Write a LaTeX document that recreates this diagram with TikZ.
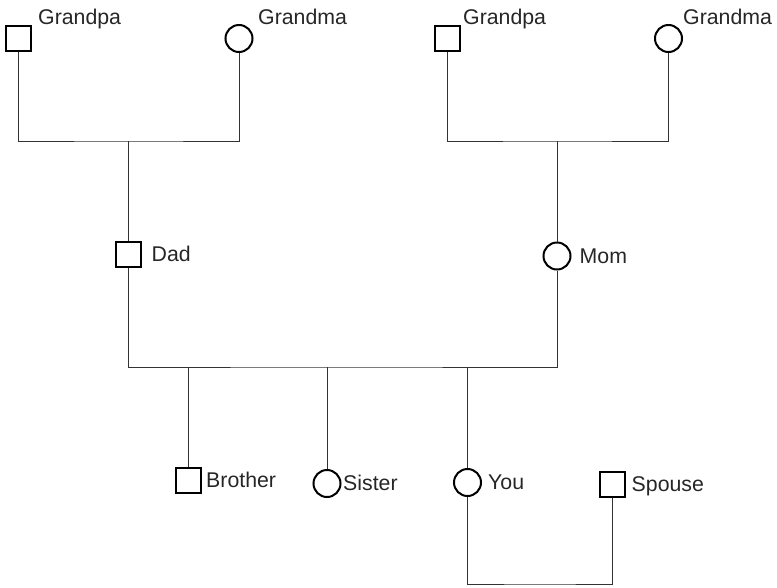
\documentclass[tikz,border=0pt]{standalone}
\usepackage{fontspec}
\setmainfont{Liberation Sans}
\begin{document}
\begin{tikzpicture}[x=1pt,y=-1pt,
  male/.style={draw=black,line width=2pt,rectangle,minimum size=25pt,inner sep=0pt,fill=white},
  female/.style={draw=black,line width=2pt,circle,minimum size=27pt,inner sep=0pt,fill=white},
  lbl/.style={anchor=base west,inner sep=0pt,font=\fontsize{21.3}{25}\selectfont,text=black!85},
  link/.style={draw=black!80,line width=1pt}]
\useasboundingbox (0,0) rectangle (777,587);
% people
\node[male]   (gp1) at (18.5,38.5) {};
\node[female] (gm1) at (239,38.5) {};
\node[male]   (gp2) at (447.5,38.5) {};
\node[female] (gm2) at (668.5,38.5) {};
\node[male]   (dad) at (128.5,254) {};
\node[female] (mom) at (557,256) {};
\node[male]   (bro) at (188.5,480.5) {};
\node[female] (sis) at (327,483.5) {};
\node[female] (you) at (467.5,482.5) {};
\node[male]   (sp)  at (612.5,484) {};
% labels
\node[lbl] (lgp1) at (38,24.5) {Grandpa};
\node[lbl] (lgm1) at (258,24.5) {Grandma};
\node[lbl] (lgp2) at (463,24.5) {Grandpa};
\node[lbl] (lgm2) at (683,24.5) {Grandma};
\node[lbl] (ldad) at (151.5,261) {Dad};
\node[lbl] (lmom) at (579.5,263) {Mom};
\node[lbl] (lbro) at (206,487.5) {Brother};
\node[lbl] (lsis) at (343,490.5) {Sister};
\node[lbl] (lyou) at (488,489.5) {You};
\node[lbl] (lsp)  at (631.5,491) {Spouse};
% junction points
\coordinate (j1) at (dad.north |- 0,141);
\coordinate (j2) at (mom.north |- 0,141);
\coordinate (j3) at (330,367);
\coordinate (j4) at (540,584);
% connectors
\begin{scope}[on background layer/.try]
\draw[link] (gp1.south) |- (j1) -| (gm1.south);
\draw[link] (j1) -- (dad.north);
\draw[link] (gp2.south) |- (j2) -| (gm2.south);
\draw[link] (j2) -- (mom.north);
\draw[link] (dad.south) |- (j3) -| (mom.south);
\draw[link] (bro.north |- j3) -- (bro.north);
\draw[link] (sis.north |- j3) -- (sis.north);
\draw[link] (you.north |- j3) -- (you.north);
\draw[link] (you.south) |- (j4) -| (sp.south);
\end{scope}
\end{tikzpicture}
\end{document}
